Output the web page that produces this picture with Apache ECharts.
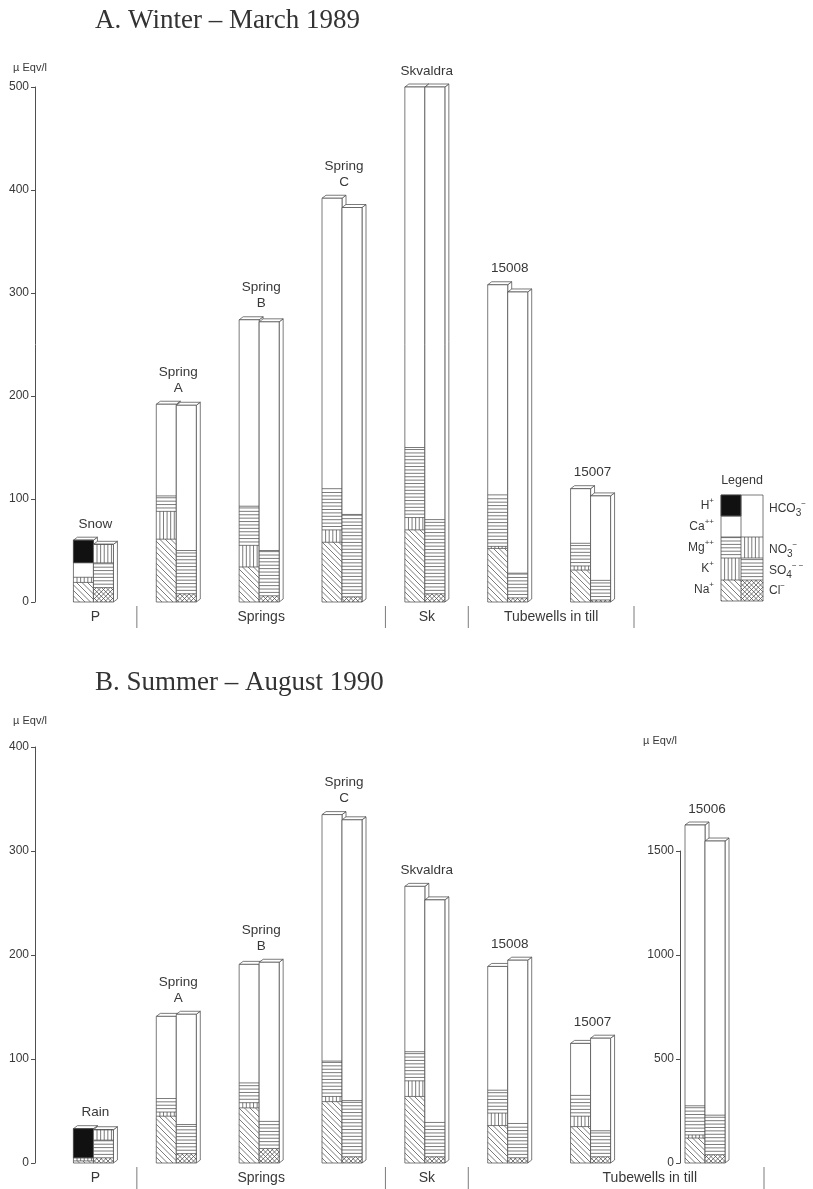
<!DOCTYPE html>
<html>
<head>
<meta charset="utf-8">
<script src="https://cdn.jsdelivr.net/npm/echarts@6/dist/echarts.min.js"></script>
<style>
  html, body { margin: 0; padding: 0; background: #fff; }
  #chart { width: 813px; height: 1189px; }
</style>
</head>
<body>
<div id="chart"></div>
<script>
// ---------- Winter, March 1989 (µEqv/l) ----------
const stationsA = ['Snow', 'Spring A', 'Spring B', 'Spring C', 'Skvaldra', '15008', '15007'];
const stationLabelsA = ['Snow', 'Spring\nA', 'Spring\nB', 'Spring\nC', 'Skvaldra', '15008', '15007'];
// cations
const naA   = [19, 61, 34, 58, 70, 52, 31];
const kA    = [5, 27, 21, 12, 12, 2, 4];
const mgA   = [0, 15, 38, 40, 68, 50, 22];
const caA   = [14, 89, 181, 282, 350, 204, 53];
const hA    = [22, 0, 0, 0, 0, 0, 0];
// anions
const clA   = [14, 8, 6, 5, 8, 4, 2];
const so4A  = [24, 42, 44, 80, 72, 24, 19];
const no3A  = [18, 0, 0, 0, 0, 0, 0];
const hco3A = [0, 141, 222, 298, 420, 273, 82];

// ---------- Summer, August 1990 (µEqv/l) ----------
const stationsB = ['Rain', 'Spring A', 'Spring B', 'Spring C', 'Skvaldra', '15008', '15007'];
const stationLabelsB = ['Rain', 'Spring\nA', 'Spring\nB', 'Spring\nC', 'Skvaldra', '15008', '15007'];
const naB   = [2, 45, 53, 59, 64, 36, 35];
const kB    = [3, 4, 5, 5, 15, 12, 10];
const mgB   = [0, 13, 19, 34, 28, 22, 20];
const caB   = [0, 79, 114, 237, 159, 119, 50];
const hB    = [28, 0, 0, 0, 0, 0, 0];
const clB   = [5, 9, 14, 6, 6, 5, 6];
const so4B  = [17, 28, 26, 54, 33, 33, 25];
const no3B  = [10, 0, 0, 0, 0, 0, 0];
const hco3B = [0, 106, 153, 270, 214, 157, 89];

// tubewell 15006 on its own (5x) scale
const stationsC = ['15006'];
const stationLabelsC = ['15006'];
const naC   = [120];
const kC    = [15];
const mgC   = [140];
const caC   = [1350];
const hC    = [0];
const clC   = [40];
const so4C  = [190];
const no3C  = [0];
const hco3C = [1318];

// axis ticks
const ticksA = { min: 0, max: 500, interval: 100 };
const ticksB = { min: 0, max: 400, interval: 100 };
const ticksC = { min: 0, max: 1500, interval: 500 };

// station groups along the bottom
const groupNamesA = ['P', 'Springs', 'Sk', 'Tubewells in till'];
const groupEndA = [[0, 'Snow'], [0, 'Spring C'], [0, 'Skvaldra'], [0, '15007']];
const groupMidA = [[[0, 'Snow']], [[0, 'Spring B']], [[0, 'Skvaldra']], [[0, '15008'], [0, '15007']]];
const groupNamesB = ['P', 'Springs', 'Sk', 'Tubewells in till'];
const groupEndB = [[1, 'Rain'], [1, 'Spring C'], [1, 'Skvaldra'], [2, '15006']];
const groupMidB = [[[1, 'Rain']], [[1, 'Spring B']], [[1, 'Skvaldra']], [[1, '15007'], [2, '15006']]];

// ---------- drawing style ----------
const INK = '#4f4f4f';
const TEXT = '#383838';
const LW = 0.75;
const BAR_W = 20, DEPTH_X = 4, DEPTH_Y = 3;
const SANS = '"Liberation Sans", Arial, Helvetica, sans-serif';
const SERIF = '"Liberation Serif", "Times New Roman", serif';
const CATION_KINDS = ['diag', 'vert', 'horiz', 'blank', 'black'];   // Na K Mg Ca H
const ANION_KINDS = ['cross', 'horiz', 'vert', 'blank'];            // Cl SO4 NO3 HCO3

const GRID_A = { left: 54, width: 580, top: 87, height: 515 };
const GRID_B = { left: 54, width: 580, top: 747, height: 416 };
const GRID_C = { left: 650, width: 114, top: 851, height: 312 };

function ln(x1, y1, x2, y2) {
  return { type: 'line', silent: true, shape: { x1, y1, x2, y2 }, style: { stroke: INK, lineWidth: LW } };
}

function diagLines(x0, y0, x1, y1, s, dir, out) {
  if (dir > 0) { // "\" lines: y = x + c
    for (let c = Math.ceil((y0 - x1) / s) * s; c <= y1 - x0; c += s) {
      const xs = Math.max(x0, y0 - c), xe = Math.min(x1, y1 - c);
      if (xe - xs > 0.4) out.push(ln(xs, xs + c, xe, xe + c));
    }
  } else {       // "/" lines: y = -x + c
    for (let c = Math.ceil((x0 + y0) / s) * s; c <= x1 + y1; c += s) {
      const xs = Math.max(x0, c - y1), xe = Math.min(x1, c - y0);
      if (xe - xs > 0.4) out.push(ln(xs, c - xs, xe, c - xe));
    }
  }
}

// fill one rectangle [x0,x1]x[y0,y1] (y0 on top) with a hatch kind
function hatch(kind, x0, y0, x1, y1, out) {
  if (y1 - y0 < 0.5) return;
  if (kind === 'black') {
    out.push({ type: 'rect', silent: true, shape: { x: x0, y: y0, width: x1 - x0, height: y1 - y0 },
      style: { fill: '#111', stroke: INK, lineWidth: LW } });
  } else if (kind === 'horiz') {
    for (let y = y1 - 3.4; y > y0 + 0.6; y -= 3.4) out.push(ln(x0, y, x1, y));
  } else if (kind === 'vert') {
    for (let x = x0 + 3.6; x < x1 - 0.6; x += 3.6) out.push(ln(x, y0, x, y1));
  } else if (kind === 'diag') {
    diagLines(x0, y0, x1, y1, 5.5, 1, out);
  } else if (kind === 'cross') {
    diagLines(x0, y0, x1, y1, 4.5, 1, out);
    diagLines(x0, y0, x1, y1, 4.5, -1, out);
  }
}

// one block bar with a small top and side face; returns the pixel y of its top
function drawBar(out, api, idx, x0, values, kinds) {
  const x1 = x0 + BAR_W;
  const ys = [api.coord([idx, 0])[1]];
  let cum = 0;
  values.forEach(v => { cum += v; ys.push(api.coord([idx, cum])[1]); });
  const yb = ys[0], yt = ys[ys.length - 1];
  const edge = { stroke: INK, lineWidth: LW, fill: '#fff' };
  out.push({ type: 'polygon', silent: true,
    shape: { points: [[x1, yt], [x1 + DEPTH_X, yt - DEPTH_Y], [x1 + DEPTH_X, yb - DEPTH_Y], [x1, yb]] }, style: edge });
  out.push({ type: 'polygon', silent: true,
    shape: { points: [[x0, yt], [x0 + DEPTH_X, yt - DEPTH_Y], [x1 + DEPTH_X, yt - DEPTH_Y], [x1, yt]] }, style: edge });
  out.push({ type: 'rect', silent: true, shape: { x: x0, y: yt, width: BAR_W, height: yb - yt }, style: edge });
  values.forEach((v, j) => {
    const top = ys[j + 1], bot = ys[j];
    if (bot - top < 0.5) return;
    hatch(kinds[j], x0, top, x1, bot, out);
    if (j < values.length - 1 && kinds[j] !== 'blank') out.push(ln(x0, top, x1, top));
  });
  return yt;
}

function pairSeries(axisIndex, labels, cations, anions) {
  const data = labels.map((_, i) => [i].concat(cations.map(a => a[i]), anions.map(a => a[i])));
  return {
    type: 'custom',
    xAxisIndex: axisIndex,
    yAxisIndex: axisIndex,
    clip: false,
    silent: true,
    data: data,
    renderItem: function (params, api) {
      const i = api.value(0);
      const cx = api.coord([i, 0])[0];
      const catV = [1, 2, 3, 4, 5].map(k => api.value(k));
      const anV = [6, 7, 8, 9].map(k => api.value(k));
      const out = [];
      const topL = drawBar(out, api, i, cx - 22, catV, CATION_KINDS);
      const topR = drawBar(out, api, i, cx - 2, anV, ANION_KINDS);
      out.push({
        type: 'text', silent: true,
        style: {
          text: labels[params.dataIndex], x: cx, y: Math.min(topL, topR) - DEPTH_Y - 5,
          align: 'center', verticalAlign: 'bottom', textAlign: 'center', textVerticalAlign: 'bottom',
          font: '13.5px ' + SANS, lineHeight: 16, fill: TEXT
        }
      });
      return { type: 'group', children: out };
    }
  };
}

function valueAxis(grid, ticks, offset, nameGap, namePad) {
  return {
    type: 'value', gridIndex: grid, min: ticks.min, max: ticks.max, interval: ticks.interval,
    position: 'left', offset: offset,
    name: 'µ Eqv/l', nameLocation: 'end', nameGap: nameGap,
    nameTextStyle: { color: TEXT, fontSize: 11, fontFamily: SANS, align: 'center', verticalAlign: 'middle', padding: namePad },
    axisLine: { show: true, lineStyle: { color: INK, width: 1 } },
    axisTick: { show: true, length: 4, lineStyle: { color: INK, width: 1 } },
    axisLabel: { color: TEXT, fontSize: 12, fontFamily: SANS, margin: 6, formatter: v => String(v) },
    splitLine: { show: false }
  };
}

const chart = echarts.init(document.getElementById('chart'), null, { renderer: 'canvas' });

const option = {
  animation: false,
  backgroundColor: '#ffffff',
  title: [
    { text: 'A. Winter – March 1989', left: 90, top: 2,
      textStyle: { fontFamily: SERIF, fontSize: 27, fontWeight: 'normal', color: '#333' } },
    { text: 'B. Summer – August 1990', left: 90, top: 664,
      textStyle: { fontFamily: SERIF, fontSize: 27, fontWeight: 'normal', color: '#333' } }
  ],
  grid: [GRID_A, GRID_B, GRID_C],
  xAxis: [
    { type: 'category', gridIndex: 0, data: stationsA, show: false },
    { type: 'category', gridIndex: 1, data: stationsB, show: false },
    { type: 'category', gridIndex: 2, data: stationsC, show: false }
  ],
  yAxis: [
    valueAxis(0, ticksA, 19, 19, [0, 10, 0, 0]),
    valueAxis(1, ticksB, 19, 26, [0, 10, 0, 0]),
    valueAxis(2, ticksC, -30, 110, [0, 40, 0, 0])
  ],
  series: [
    pairSeries(0, stationLabelsA, [naA, kA, mgA, caA, hA], [clA, so4A, no3A, hco3A]),
    pairSeries(1, stationLabelsB, [naB, kB, mgB, caB, hB], [clB, so4B, no3B, hco3B]),
    pairSeries(2, stationLabelsC, [naC, kC, mgC, caC, hC], [clC, so4C, no3C, hco3C])
  ]
};

chart.setOption(option);

// ---------- group dividers and names under the bars ----------
const bands = [GRID_A.width / stationsA.length, GRID_B.width / stationsB.length, GRID_C.width / stationsC.length];
function catX(ref) { return chart.convertToPixel({ xAxisIndex: ref[0] }, ref[1]); }

function groupElements(names, ends, mids, grid) {
  const out = [];
  const base = grid.top + grid.height;
  names.forEach((name, g) => {
    const xe = catX(ends[g]) + bands[ends[g][0]] / 2;
    out.push(ln(xe, base + 4, xe, base + 26));
    const xm = mids[g].reduce((s, r) => s + catX(r), 0) / mids[g].length;
    out.push({ type: 'text', silent: true,
      style: { text: name, x: xm, y: base + 15, align: 'center', verticalAlign: 'middle',
        textAlign: 'center', textVerticalAlign: 'middle', font: '14px ' + SANS, fill: TEXT } });
  });
  return out;
}

// ---------- legend box ----------
function legendElements() {
  const out = [];
  const xL = 721, xM = 741, xR = 763;
  const rows = [495, 516, 537, 558, 580, 601];
  out.push({ type: 'rect', silent: true, shape: { x: xL, y: rows[0], width: xR - xL, height: rows[5] - rows[0] },
    style: { fill: '#fff', stroke: INK, lineWidth: LW } });
  const leftKinds = ['black', 'blank', 'horiz', 'vert', 'diag'];
  leftKinds.forEach((k, j) => {
    hatch(k, xL, rows[j], xM, rows[j + 1], out);
    if (j > 0) out.push(ln(xL, rows[j], xM, rows[j]));
  });
  const rightCells = [['blank', 0, 2], ['vert', 2, 3], ['horiz', 3, 4], ['cross', 4, 5]];
  rightCells.forEach((c, j) => {
    hatch(c[0], xM, rows[c[1]], xR, rows[c[2]], out);
    if (j > 0) out.push(ln(xM, rows[c[1]], xR, rows[c[1]]));
  });
  out.push(ln(xM, rows[0], xM, rows[5]));
  const rich = {
    sup: { fontSize: 8, fontFamily: SANS, fill: TEXT, verticalAlign: 'top', lineHeight: 9 },
    sub: { fontSize: 10, fontFamily: SANS, fill: TEXT, verticalAlign: 'bottom', lineHeight: 10 }
  };
  function label(text, x, y, align) {
    out.push({ type: 'text', silent: true,
      style: { text: text, x: x, y: y, align: align, verticalAlign: 'middle', textAlign: align,
        textVerticalAlign: 'middle', font: '12px ' + SANS, fill: TEXT, lineHeight: 18, rich: rich } });
  }
  out.push({ type: 'text', silent: true,
    style: { text: 'Legend', x: (xL + xR) / 2, y: 481, align: 'center', verticalAlign: 'middle',
      textAlign: 'center', textVerticalAlign: 'middle', font: '12.5px ' + SANS, fill: TEXT } });
  label('H{sup|+}', 714, 506, 'right');
  label('Ca{sup|++}', 714, 527, 'right');
  label('Mg{sup|++}', 714, 548, 'right');
  label('K{sup|+}', 714, 569, 'right');
  label('Na{sup|+}', 714, 590, 'right');
  label('HCO{sub|3}{sup|−}', 769, 509, 'left');
  label('NO{sub|3}{sup|−}', 769, 550, 'left');
  label('SO{sub|4}{sup|− −}', 769, 571, 'left');
  label('Cl{sup|−}', 769, 591, 'left');
  return out;
}

chart.setOption({
  graphic: {
    elements: [].concat(
      groupElements(groupNamesA, groupEndA, groupMidA, GRID_A),
      groupElements(groupNamesB, groupEndB, groupMidB, GRID_B),
      legendElements()
    )
  }
});
</script>
</body>
</html>
